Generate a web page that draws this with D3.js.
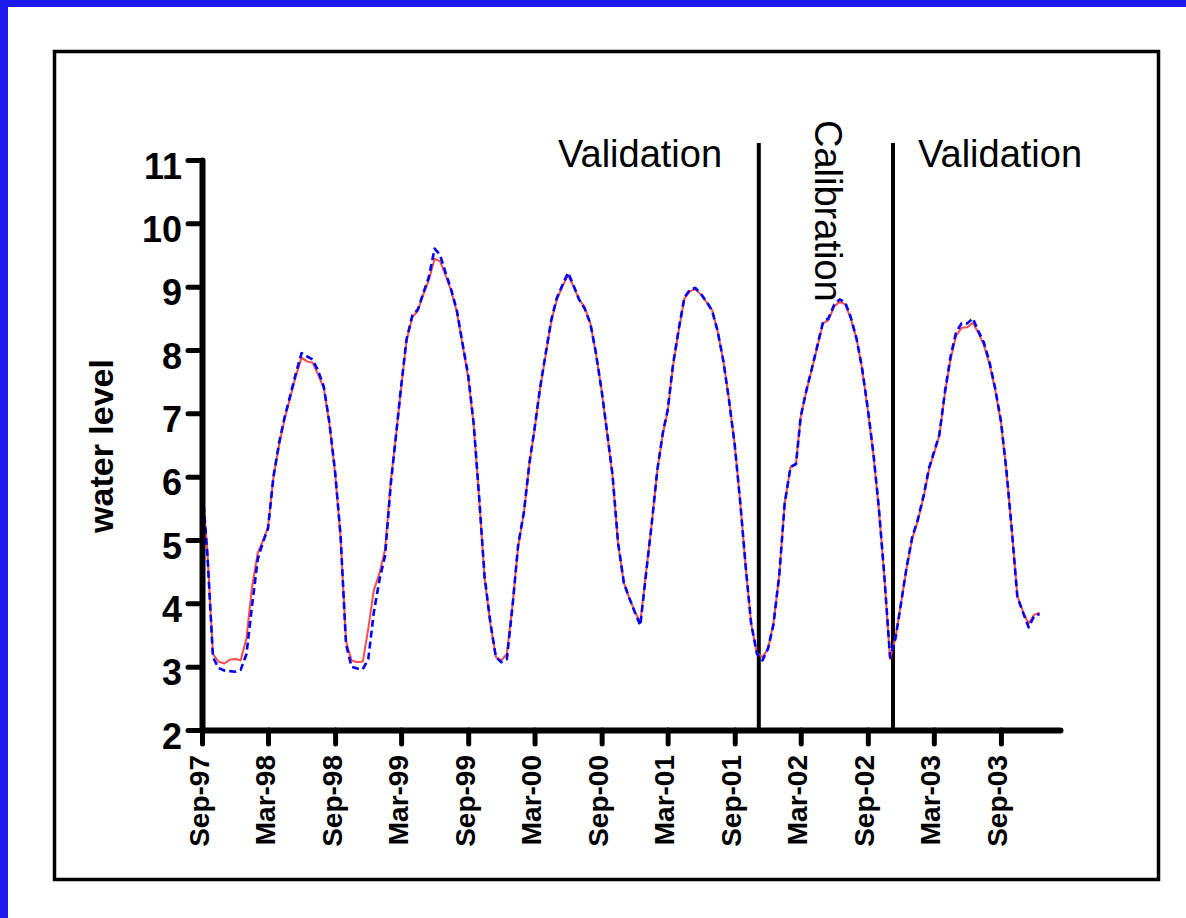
<!DOCTYPE html>
<html>
<head>
<meta charset="utf-8">
<script src="https://cdn.jsdelivr.net/npm/d3@7"></script>
<style>
  body { margin: 0; background: #ffffff; }
  svg { display: block; }
  text { font-family: "Liberation Sans", Arial, Helvetica, sans-serif; }
</style>
</head>
<body>
<svg id="chart" width="1186" height="918"></svg>
<script>
// Water level, sampled on the 1st and 16th of each month from Sep 1997.
// One row per hydrological year (Sep - Aug).
const observedLevels = [
  5.9, 4.8, 3.2, 3.08, 3.05, 3.11, 3.12, 3.1, 3.45, 4.25, 4.8, 5.0, 5.2, 6.0, 6.52, 6.92, 7.25, 7.58, 7.88, 7.82, 7.8, 7.62, 7.4, 6.85,
  6.05, 5.05, 3.4, 3.1, 3.07, 3.08, 3.6, 4.2, 4.48, 4.85, 5.95, 6.7, 7.4, 8.15, 8.52, 8.62, 8.88, 9.1, 9.44, 9.4, 9.18, 8.94, 8.6, 8.1,
  7.57, 6.82, 5.66, 4.39, 3.67, 3.15, 3.1, 3.2, 4.0, 4.9, 5.44, 6.21, 6.74, 7.38, 7.94, 8.46, 8.79, 9.0, 9.18, 9.0, 8.8, 8.68, 8.42, 7.96,
  7.36, 6.68, 6.0, 4.94, 4.32, 4.08, 3.87, 3.7, 4.5, 5.24, 6.12, 6.68, 7.03, 7.76, 8.33, 8.81, 8.93, 8.96, 8.87, 8.75, 8.63, 8.3, 7.82, 7.23,
  6.5, 5.6, 4.58, 3.68, 3.21, 3.15, 3.28, 3.68, 4.44, 5.58, 6.15, 6.21, 6.95, 7.34, 7.71, 8.06, 8.42, 8.47, 8.69, 8.76, 8.72, 8.5, 8.18, 7.71,
  7.05, 6.36, 5.5, 4.44, 3.12, 3.47, 4.0, 4.54, 5.03, 5.3, 5.68, 6.12, 6.36, 6.65, 7.34, 7.86, 8.22, 8.35, 8.36, 8.43, 8.27, 8.08, 7.77, 7.38,
  6.86, 6.09, 5.15, 4.12, 3.86, 3.68, 3.82, 3.85
];

const simulatedLevels = [
  5.9, 4.75, 3.15, 2.98, 2.94, 2.93, 2.92, 2.95, 3.2, 3.95, 4.7, 4.98, 5.18, 6.0, 6.55, 6.95, 7.28, 7.62, 7.95, 7.9, 7.85, 7.68, 7.42, 6.87,
  6.08, 5.07, 3.35, 3.0, 2.97, 2.96, 3.12, 3.85, 4.38, 4.75, 5.9, 6.7, 7.42, 8.17, 8.55, 8.64, 8.9, 9.15, 9.6, 9.5, 9.22, 8.96, 8.62, 8.12,
  7.6, 6.84, 5.68, 4.42, 3.69, 3.15, 3.07, 3.12, 3.98, 4.92, 5.45, 6.22, 6.76, 7.4, 7.96, 8.48, 8.82, 9.02, 9.22, 9.02, 8.8, 8.66, 8.42, 7.96,
  7.36, 6.7, 6.02, 4.96, 4.32, 4.08, 3.86, 3.65, 4.48, 5.24, 6.12, 6.7, 7.05, 7.78, 8.35, 8.83, 8.95, 8.98, 8.88, 8.76, 8.62, 8.3, 7.82, 7.22,
  6.5, 5.6, 4.58, 3.68, 3.2, 3.1, 3.28, 3.66, 4.44, 5.58, 6.15, 6.2, 6.95, 7.35, 7.72, 8.08, 8.44, 8.5, 8.72, 8.8, 8.75, 8.52, 8.18, 7.72,
  7.07, 6.38, 5.52, 4.45, 3.15, 3.45, 4.0, 4.56, 5.05, 5.32, 5.7, 6.14, 6.38, 6.66, 7.36, 7.9, 8.28, 8.42, 8.42, 8.5, 8.3, 8.12, 7.8, 7.4,
  6.88, 6.1, 5.15, 4.1, 3.85, 3.62, 3.8, 3.83
];

const yTickValues = [2, 3, 4, 5, 6, 7, 8, 9, 10, 11];
const xTickDates = ["1997-09-01", "1998-03-01", "1998-09-01", "1999-03-01", "1999-09-01",
  "2000-03-01", "2000-09-01", "2001-03-01", "2001-09-01", "2002-03-01", "2002-09-01",
  "2003-03-01", "2003-09-01"];
const periodBounds = ["2001-11-06", "2002-11-09"];
const periodLabels = ["Validation", "Calibration", "Validation"];

// ---- helpers --------------------------------------------------------
const parseDay = d3.timeParse("%Y-%m-%d");
const fmtTick = d3.timeFormat("%b-%y");

// sample dates: 1st and 16th of every month starting Sep 1997
const sampleDates = observedLevels.map((_, i) =>
  new Date(1997, 8 + Math.floor(i / 2), i % 2 ? 16 : 1));

const obsSeries = observedLevels.map((v, i) => ({ date: sampleDates[i], value: v }));
const simSeries = simulatedLevels.map((v, i) => ({ date: sampleDates[i], value: v }));

// ---- layout ----------------------------------------------------------
const svg = d3.select("#chart");
const W = 1186, H = 918;

svg.append("rect").attr("width", W).attr("height", H).attr("fill", "#ffffff");
// blue page edge (top and left)
svg.append("rect").attr("x", 0).attr("y", 0).attr("width", W).attr("height", 7).attr("fill", "#1c19eb");
svg.append("rect").attr("x", 0).attr("y", 0).attr("width", 8).attr("height", H).attr("fill", "#1c19eb");

// outer frame
svg.append("rect")
  .attr("x", 54.5).attr("y", 51.5).attr("width", 1104).attr("height", 828)
  .attr("fill", "none").attr("stroke", "#000").attr("stroke-width", 3.5);

const plotLeft = 202, plotRight = 1060, plotTop = 160, plotBottom = 730;

const x = d3.scaleTime()
  .domain([new Date(1997, 8, 1), new Date(2004, 1, 10)])
  .range([plotLeft, plotRight]);

const y = d3.scaleLinear()
  .domain([2, 11])
  .range([plotBottom, plotTop]);

// ---- period dividers -------------------------------------------------
svg.append("g").selectAll("line")
  .data(periodBounds.map(parseDay))
  .join("line")
  .attr("x1", d => x(d)).attr("x2", d => x(d))
  .attr("y1", y(2)).attr("y2", y(11.27))
  .attr("stroke", "#000").attr("stroke-width", 4);

// ---- series ----------------------------------------------------------
const line = d3.line()
  .x(d => x(d.date))
  .y(d => y(d.value));

svg.append("path")
  .datum(obsSeries)
  .attr("d", line)
  .attr("fill", "none")
  .attr("stroke", "#ff4a4a")
  .attr("stroke-width", 2)
  .attr("stroke-linejoin", "round");

svg.append("path")
  .datum(simSeries)
  .attr("d", line)
  .attr("fill", "none")
  .attr("stroke", "#0000ff")
  .attr("stroke-width", 2.6)
  .attr("stroke-dasharray", "7,4")
  .attr("stroke-linejoin", "round");

// ---- axes ------------------------------------------------------------
const yAxis = d3.axisLeft(y)
  .tickValues(yTickValues)
  .tickFormat(d3.format("d"))
  .tickSize(14)
  .tickSizeOuter(0)
  .tickPadding(6);

const gy = svg.append("g")
  .attr("transform", `translate(${plotLeft},0)`)
  .call(yAxis);

gy.select(".domain").attr("stroke-width", 6).attr("stroke-linecap", "round");
gy.selectAll(".tick line").attr("stroke-width", 5).attr("stroke-linecap", "round");
gy.selectAll(".tick text")
  .attr("font-size", 36)
  .attr("font-weight", "bold")
  .attr("font-family", "'Liberation Sans', Arial, sans-serif")
  .attr("fill", "#000")
  .attr("dy", "0.5em");

const xAxis = d3.axisBottom(x)
  .tickValues(xTickDates.map(parseDay))
  .tickFormat(fmtTick)
  .tickSize(14)
  .tickSizeOuter(0);

const gx = svg.append("g")
  .attr("transform", `translate(0,${plotBottom})`)
  .call(xAxis);

gx.select(".domain").attr("stroke-width", 6).attr("stroke-linecap", "round");
gx.selectAll(".tick line").attr("stroke-width", 5).attr("stroke-linecap", "round");
gx.selectAll(".tick text")
  .attr("font-size", 28)
  .attr("font-weight", "bold")
  .attr("font-family", "'Liberation Sans', Arial, sans-serif")
  .attr("fill", "#000")
  .attr("text-anchor", "end")
  .attr("transform", "rotate(-90)")
  .attr("x", -25)
  .attr("y", 6)
  .attr("dy", 0);

// bring axes above dividers is not needed; redraw the y axis line on top of series
gy.raise();

// ---- labels ----------------------------------------------------------
svg.append("text")
  .attr("transform", "translate(113,446) rotate(-90)")
  .attr("text-anchor", "middle")
  .attr("font-size", 34)
  .attr("font-weight", "bold")
  .attr("fill", "#000")
  .text("water level");

svg.append("text")
  .attr("x", 558).attr("y", 167)
  .attr("font-size", 38)
  .attr("fill", "#000")
  .text(periodLabels[0]);

svg.append("text")
  .attr("transform", "translate(815,120) rotate(90)")
  .attr("font-size", 38)
  .attr("fill", "#000")
  .text(periodLabels[1]);

svg.append("text")
  .attr("x", 918).attr("y", 167)
  .attr("font-size", 38)
  .attr("fill", "#000")
  .text(periodLabels[2]);
</script>
</body>
</html>
